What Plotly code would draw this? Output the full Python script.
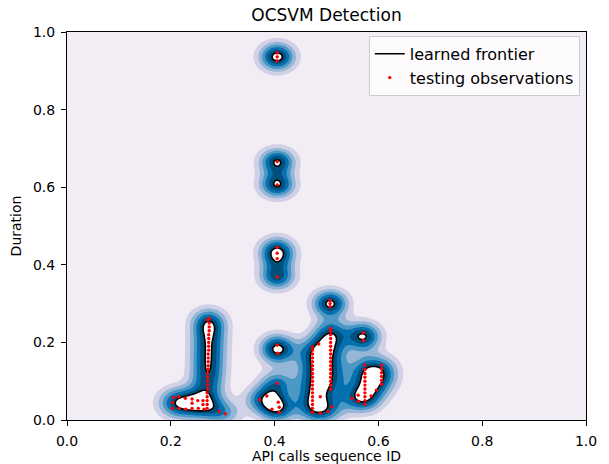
import numpy as np
import plotly.graph_objects as go

# ---------------- data ----------------
# testing observations (x = API calls sequence ID, y = Duration)
obs_x = [
    # vertical streak near 0.27
    0.270, 0.270, 0.270, 0.270, 0.270, 0.271, 0.271, 0.271, 0.271, 0.271,
    0.272, 0.272, 0.272, 0.272, 0.272, 0.273, 0.273, 0.273, 0.273, 0.273,
    0.274, 0.274, 0.274, 0.274, 0.271,
    # bottom band 0.20-0.27
    0.203, 0.203, 0.205, 0.215, 0.216, 0.228, 0.229, 0.241, 0.241, 0.241,
    0.252, 0.253, 0.262, 0.262, 0.264,
    # small pair
    0.293, 0.305,
    # column near 0.405
    0.405, 0.405, 0.405, 0.405, 0.405, 0.405, 0.405, 0.405, 0.405, 0.405,
    0.406, 0.405, 0.371, 0.385, 0.407, 0.409, 0.409, 0.395,
    # top point near 0.5
    0.507, 0.507, 0.507,
    # cluster 0.47-0.51 : right edge
    0.508, 0.508, 0.508, 0.508, 0.508, 0.508, 0.508, 0.508, 0.508, 0.508,
    0.508, 0.508, 0.508, 0.508, 0.508, 0.508, 0.508,
    # cluster 0.47-0.51 : left edge
    0.473, 0.473, 0.473, 0.473, 0.473, 0.473, 0.473, 0.473, 0.473, 0.473,
    0.473, 0.473, 0.473, 0.473, 0.473, 0.473, 0.473, 0.473,
    0.485, 0.488, 0.503, 0.510, 0.488,
    # small circle near 0.57
    0.571, 0.571,
    # cluster 0.54-0.61 : left edge
    0.574, 0.574, 0.574, 0.574, 0.574, 0.574, 0.574, 0.574, 0.574, 0.574,
    0.574,
    # cluster 0.54-0.61 : right edge, diagonal and foot
    0.606, 0.606, 0.606, 0.606, 0.606, 0.606, 0.596, 0.586,
    0.549, 0.561, 0.561,
]
obs_y = [
    0.030, 0.040, 0.050, 0.060, 0.070, 0.080, 0.090, 0.100, 0.110, 0.120,
    0.130, 0.140, 0.150, 0.160, 0.170, 0.180, 0.190, 0.200, 0.210, 0.220,
    0.230, 0.240, 0.250, 0.262, 0.258,
    0.030, 0.045, 0.058, 0.060, 0.030, 0.056, 0.028, 0.030, 0.043, 0.054,
    0.050, 0.030, 0.040, 0.050, 0.028,
    0.022, 0.016,
    0.926, 0.936, 0.946, 0.666, 0.606, 0.416, 0.430, 0.445, 0.369, 0.193,
    0.172, 0.095, 0.052, 0.062, 0.046, 0.033, 0.020, 0.028,
    0.292, 0.300, 0.308,
    0.080, 0.090, 0.100, 0.110, 0.120, 0.130, 0.140, 0.150, 0.160, 0.170,
    0.180, 0.190, 0.200, 0.210, 0.220, 0.228, 0.236,
    0.020, 0.030, 0.040, 0.050, 0.060, 0.070, 0.080, 0.090, 0.100, 0.110,
    0.120, 0.130, 0.140, 0.150, 0.160, 0.170, 0.180, 0.188,
    0.196, 0.018, 0.022, 0.034, 0.060,
    0.205, 0.225,
    0.040, 0.050, 0.060, 0.070, 0.080, 0.090, 0.100, 0.110, 0.120, 0.130,
    0.142,
    0.092, 0.102, 0.112, 0.122, 0.132, 0.142, 0.077, 0.062,
    0.056, 0.048, 0.064,
]

tick_vals = [0.0, 0.2, 0.4, 0.6, 0.8, 1.0]
tick_text = ["0.0", "0.2", "0.4", "0.6", "0.8", "1.0"]

# RBF kernel parameters of the decision function
GAMMA = 900.0
THRESH = 0.965

# PuBu colours of the 6 filled bands below the frontier, white inside
band_colors = ["#f2ecf5", "#d0d1e6", "#95b6d7", "#4b98c5", "#0570b0", "#034f7b"]
inside_color = "#ffffff"

# ---------------- decision function on a grid ----------------
ox = np.array(obs_x)
oy = np.array(obs_y)
d2 = (ox[:, None] - ox[None, :]) ** 2 + (oy[:, None] - oy[None, :]) ** 2
alpha = 1.0 / np.exp(-GAMMA * d2).sum(axis=1)

gx = np.linspace(0, 1, 321)
gy = np.linspace(0, 1, 321)
XX, YY = np.meshgrid(gx, gy)
F = np.zeros_like(XX)
for xi, yi, ai in zip(ox, oy, alpha):
    F += ai * np.exp(-GAMMA * ((XX - xi) ** 2 + (YY - yi) ** 2))
Z = F - THRESH
step = -Z.min() / 6.0
Zs = Z / step  # levels become -6 ... 0

colorscale = [[i / 6.0, c] for i, c in enumerate(band_colors)] + [[1.0, inside_color]]

fig = go.Figure()
fig.add_trace(go.Contour(
    x=gx, y=gy, z=Zs,
    autocontour=False,
    contours=dict(start=-5, end=0, size=1, coloring="fill", showlines=False),
    colorscale=colorscale, showscale=False, line=dict(width=0),
    hoverinfo="skip", showlegend=False,
))
fig.add_trace(go.Contour(
    x=gx, y=gy, z=Zs,
    autocontour=False,
    contours=dict(start=0, end=0, size=1, coloring="none"),
    line=dict(color="black", width=1.6),
    showscale=False, hoverinfo="skip", showlegend=False,
))
fig.add_trace(go.Scatter(
    x=[None], y=[None], mode="lines", name="learned frontier",
    line=dict(color="black", width=1.5),
))
fig.add_trace(go.Scatter(
    x=obs_x, y=obs_y, mode="markers", name="testing observations",
    marker=dict(color="red", size=3.4, line=dict(width=0)),
))

font = "DejaVu Sans, sans-serif"
axis_common = dict(
    range=[0, 1], tickvals=tick_vals, ticktext=tick_text,
    showgrid=False, zeroline=False, showline=True, mirror=True,
    linecolor="black", linewidth=1, ticks="outside", ticklen=5,
    tickcolor="black", tickwidth=1, automargin=False,
    ticklabelstandoff=3,
    tickfont=dict(family=font, size=14, color="black"),
)
fig.update_layout(
    width=609, height=464,
    margin=dict(l=67, r=23, t=32, b=44),
    paper_bgcolor="white", plot_bgcolor=band_colors[0],
    font=dict(family=font, color="black"),
    title=dict(text="OCSVM Detection", x=0.5, xref="paper", xanchor="center",
               y=1 - 15 / 464, yref="container", yanchor="middle",
               font=dict(family=font, size=17, color="black")),
    xaxis=dict(axis_common, title=dict(text="API calls sequence ID",
               font=dict(family=font, size=14, color="black"), standoff=6)),
    yaxis=dict(axis_common, title=dict(text="Duration",
               font=dict(family=font, size=14, color="black"), standoff=8)),
    legend=dict(x=0.988, y=0.990, xanchor="right", yanchor="top",
                bgcolor="rgba(255,255,255,0.8)", bordercolor="#cccccc",
                borderwidth=1, font=dict(family=font, size=16, color="black")),
    showlegend=True,
)

fig.write_html(
    "out.html",
    config={"displayModeBar": False},
    post_script="document.body.style.margin='0';document.body.style.padding='0';",
)
